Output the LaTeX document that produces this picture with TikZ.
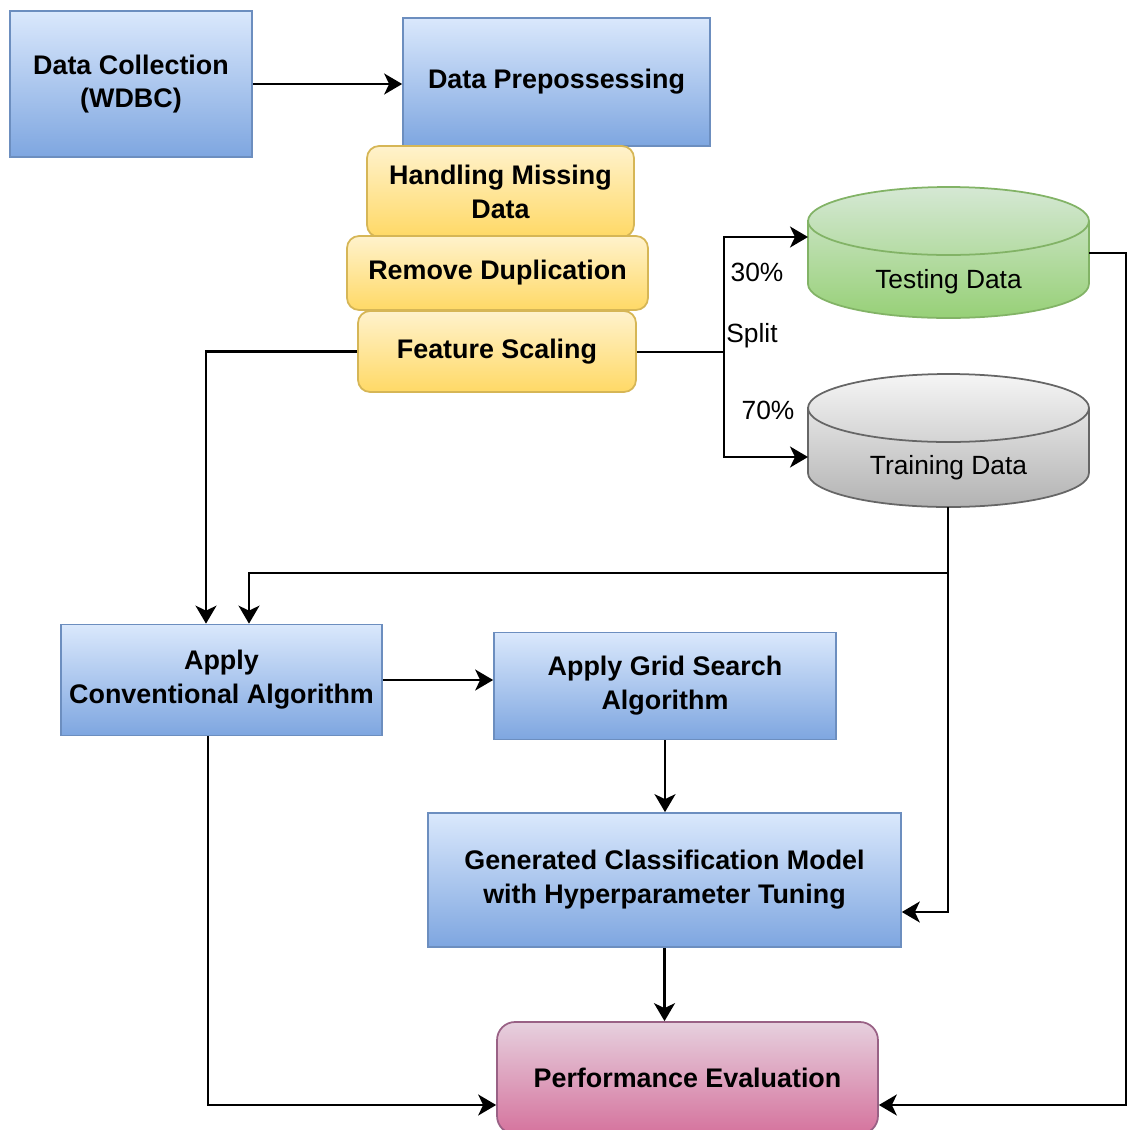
\documentclass[tikz,border=0pt]{standalone}
\usepackage{fontspec}
\setsansfont{Liberation Sans}
\usepackage{xcolor}
\usetikzlibrary{positioning,arrows.meta}

\definecolor{blueTop}{HTML}{DAE8FC}
\definecolor{blueBot}{HTML}{7EA6E0}
\definecolor{blueEdge}{HTML}{6C8EBF}
\definecolor{yelTop}{HTML}{FFF2CC}
\definecolor{yelBot}{HTML}{FFD966}
\definecolor{yelEdge}{HTML}{D6B656}
\definecolor{greenTop}{HTML}{D5E8D4}
\definecolor{greenBot}{HTML}{97D077}
\definecolor{greenEdge}{HTML}{82B366}
\definecolor{grayTop}{HTML}{F5F5F5}
\definecolor{grayBot}{HTML}{B3B3B3}
\definecolor{grayEdge}{HTML}{666666}
\definecolor{pinkTop}{HTML}{E6D0DE}
\definecolor{pinkBot}{HTML}{D5739D}
\definecolor{pinkEdge}{HTML}{996185}

\newcommand\boxfont{\sffamily\bfseries\fontsize{15.3}{19.3}\selectfont}
\newcommand\lblfont{\sffamily\fontsize{15}{18}\selectfont}

\begin{document}
\begin{tikzpicture}[x=0.02cm, y=-0.02cm,
	proc/.style={draw=blueEdge, line width=1pt, top color=blueTop, bottom color=blueBot, align=center, inner sep=0pt, font=\boxfont},
	prepbox/.style={draw=yelEdge, line width=1pt, rounded corners=0.24cm, top color=yelTop, bottom color=yelBot, align=center, inner sep=0pt, font=\boxfont},
	evalbox/.style={draw=pinkEdge, line width=1pt, rounded corners=0.36cm, top color=pinkTop, bottom color=pinkBot, align=center, inner sep=0pt, font=\boxfont},
	lbl/.style={inner sep=0pt, font=\lblfont},
	link/.style={line width=1.3pt, -{Stealth[length=0.36cm, width=0.42cm, inset=0.1cm]}}]
		\useasboundingbox (0,0) rectangle (1128,1130);

		% top row
		\node[proc, minimum width=4.84cm, minimum height=2.92cm] (collect) at (131,84) {Data Collection\\(WDBC)};
		\node[proc, minimum width=6.14cm, minimum height=2.56cm] (prep) at (556.5,82) {Data Prepossessing};
		\node[prepbox, minimum width=5.34cm, minimum height=1.82cm] (missing) at (500.5,191.5) {Handling Missing\\Data};
		\node[prepbox, minimum width=6.02cm, minimum height=1.48cm] (dupl) at (497.5,273) {Remove Duplication};
		\node[prepbox, minimum width=5.56cm, minimum height=1.62cm] (scaling) at (497,351.5) {Feature Scaling};

		% data stores
		\path[draw=greenEdge, line width=1pt, top color=greenTop, bottom color=greenBot] (808,221) -- (808,284) arc[start angle=180, end angle=360, x radius=2.81cm, y radius=0.68cm] -- (1089,221) arc[start angle=0, end angle=180, x radius=2.81cm, y radius=0.68cm] -- cycle;
		\draw[greenEdge, line width=1pt] (808,221) arc[start angle=180, end angle=360, x radius=2.81cm, y radius=0.68cm];
		\node[lbl] (testing) at (948.5,282) {Testing Data};
		\path[draw=grayEdge, line width=1pt, top color=grayTop, bottom color=grayBot] (808,408) -- (808,473) arc[start angle=180, end angle=360, x radius=2.81cm, y radius=0.68cm] -- (1089,408) arc[start angle=0, end angle=180, x radius=2.81cm, y radius=0.68cm] -- cycle;
		\draw[grayEdge, line width=1pt] (808,408) arc[start angle=180, end angle=360, x radius=2.81cm, y radius=0.68cm];
		\node[lbl] (training) at (948.5,468) {Training Data};
		\coordinate (testIn) at (808,237);
		\coordinate (testOut) at (1089,253);
		\coordinate (trainIn) at (808,457);
		\coordinate (trainOut) at (948,507);

		\node[lbl] (p30) at (757,272) {30\%};
		\node[lbl] (splitlbl) at (752,336) {Split};
		\node[lbl] (p70) at (768,410) {70\%};

		% models
		\node[proc, minimum width=6.42cm, minimum height=2.22cm] (conv) at (221.5,680) {Apply\\Conventional Algorithm};
		\node[proc, minimum width=6.84cm, minimum height=2.14cm] (grid) at (665,686) {Apply Grid Search\\Algorithm};
		\node[proc, minimum width=9.46cm, minimum height=2.68cm] (model) at (664.5,880) {Generated Classification Model\\with Hyperparameter Tuning};
		\node[evalbox, minimum width=7.62cm, minimum height=2.24cm] (eval) at (687.5,1078) {Performance Evaluation};

		% connectors
		\draw[link] (collect.east) -- (collect.east -| prep.west);
		\coordinate (split) at (724,352);
		\draw[line width=1.3pt] (split -| scaling.east) -- (split);
		\draw[link] (split) |- (testIn);
		\draw[link] (split) |- (trainIn);
		\draw[link] (scaling.west) -| ([xshift=-0.31cm]conv.north);
		\coordinate (fork) at (948,573);
		\draw[link] (trainOut) -- (fork) -| ([xshift=0.55cm]conv.north);
		\draw[link] (fork) |- ([yshift=-0.64cm]model.east);
		\draw[link] (conv.east) -- (conv.east -| grid.west);
		\draw[link] (grid.south) -- (grid.south |- model.north);
		\draw[link] (model.south) -- (model.south |- eval.north);
		\draw[link] ([xshift=-0.27cm]conv.south) |- ([yshift=-0.54cm]eval.west);
		\draw[link] (testOut) -- (1126,253) |- ([yshift=-0.54cm]eval.east);
	\end{tikzpicture}
\end{document}
